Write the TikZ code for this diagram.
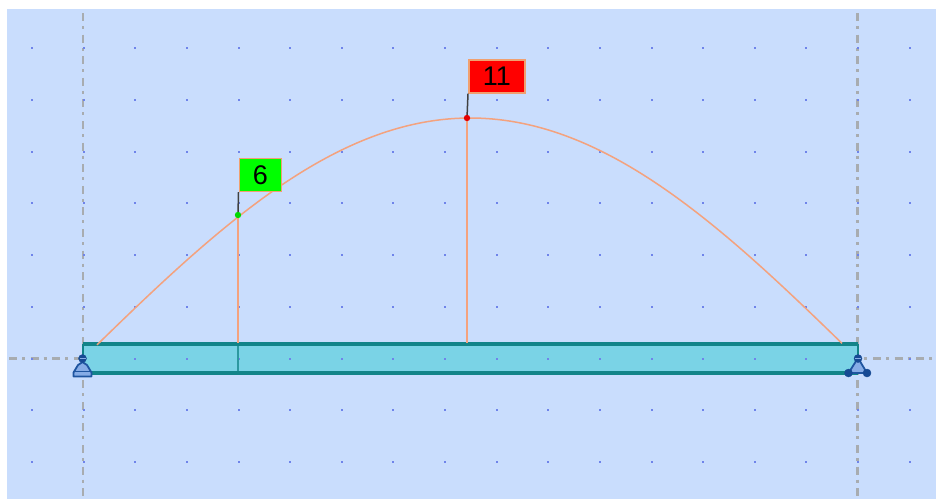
\documentclass[tikz,border=0pt]{standalone}
\usepackage{fontspec}
\setmainfont{Liberation Sans}
\definecolor{panel}{HTML}{C9DDFD}
\definecolor{griddot}{HTML}{6F84EA}
\definecolor{axisgray}{HTML}{A8ACB0}
\definecolor{arch}{HTML}{F4A27E}
\definecolor{beamfill}{HTML}{7AD3E6}
\definecolor{beamedge}{HTML}{128489}
\definecolor{supfill}{HTML}{86ACE6}
\definecolor{supedge}{HTML}{1F55A0}
\definecolor{supdark}{HTML}{164A94}
\definecolor{tagedge}{HTML}{F0A070}
\tikzset{
  axisline/.style={axisgray,line width=2.2pt,dash pattern=on 8pt off 5pt on 3pt off 5.6pt},
  archline/.style={arch,line width=1.5pt},
  flagpole/.style={black!75,line width=1.5pt},
  tagbox/.style={draw=tagedge,line width=1.6pt,minimum height=33pt,inner sep=0pt,text=black,font=\fontsize{27}{28}\selectfont},
  support/.style={fill=supfill,draw=supedge,line width=1.8pt,line join=round},
  pin/.style={circle,fill=supdark,draw=supdark,inner sep=0pt,minimum size=8pt},
}
\begin{document}
\begin{tikzpicture}[x=1pt,y=-1pt]
\useasboundingbox (0,0) rectangle (936,499);
\fill[panel] (7,9) rectangle (936,499);
% axes
\coordinate (vlt) at (83,13); \coordinate (vlb) at (83,499);
\coordinate (vrt) at (857.5,13); \coordinate (vrb) at (857.5,499);
\coordinate (hl) at (9,358.5); \coordinate (hr) at (936,358.5);
\draw[axisline] (vlt) -- (vlb);
\draw[axisline] (vrt) -- (vrb);
\draw[axisline] (hl) -- (hr);
% beam
\fill[beamfill] (83,343) rectangle (858,374);
% grid
\foreach \i in {0,...,17}{
  \foreach \j in {0,...,8}{
    \fill[griddot] ({32+51.63*\i-1},{48+51.75*\j-1}) rectangle +(2,2);
  }
}
\coordinate (p6) at (238,215);
\coordinate (p11) at (467,118);
\coordinate (b6) at (238,343);
\coordinate (b6b) at (238,373);
\coordinate (b11) at (467,343);
\draw[beamedge!75!beamfill,line width=1.2pt] (b6) -- (b6b);
\draw[beamedge,line width=4pt] (83,344) -- (858,344);
\draw[beamedge,line width=4pt] (83,373) -- (858,373);
\draw[beamedge,line width=1.2pt] (83,344) -- (83,373);
\draw[beamedge,line width=1.2pt] (858,344) -- (858,373);
% arch
\draw[archline,domain=97:842,samples=120,smooth] plot (\x,{358.5-240.5*sin(0.23241*(\x-83))});
\draw[archline] (p6) -- (b6);
\draw[archline] (p11) -- (b11);
% flags
\node[tagbox,fill=green,minimum width=42pt,anchor=north west] (t6) at (238.5,157.5) {\raisebox{-0.5pt}{6}};
\node[tagbox,fill=red,minimum width=56pt,anchor=north west] (t11) at (468,59) {\raisebox{-0.5pt}{11}};
\draw[flagpole] (t6.south west) -- (p6);
\draw[flagpole] (t11.south west) -- (p11);
\fill[green!85!black] (p6) circle (3.2pt);
\fill[red!90!black] (p11) circle (3.2pt);
% left support
\draw[support] (82.5,362) -- (87,365) -- (91.5,372.5) -- (91.5,376.5) -- (73.5,376.5) -- (73.5,372.5) -- (78,365) -- cycle;
\draw[supedge,line width=0.8pt] (75,371) -- (90,371);
\node[pin] (pl) at (82.5,358.5) {};
\draw[supfill,line width=0.7pt] (79.5,358.5) -- (85.5,358.5);
% right support
\draw[support] (858,358) -- (867,373) -- (848.5,373) -- cycle;
\node[pin] (pr) at (858,358.5) {};
\node[pin] (pa) at (848.5,373) {};
\node[pin] (pb) at (867,373) {};
\draw[supfill,line width=0.7pt] (855,358.5) -- (861,358.5);
\end{tikzpicture}
\end{document}
